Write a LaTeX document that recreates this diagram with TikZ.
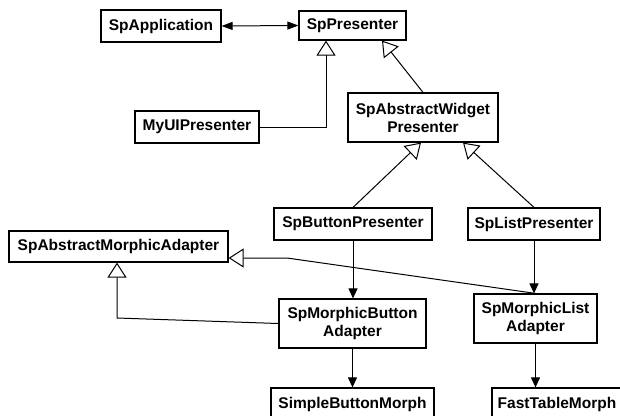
\documentclass[tikz,border=0pt]{standalone}
\usepackage{fontspec}
\setmainfont{Liberation Sans}
\usetikzlibrary{arrows.meta}

\tikzset{
  cls/.style={draw, line width=1.2pt, inner sep=0pt, align=center,
    font=\bfseries\fontsize{15.5}{18}\selectfont},
  link/.style={line width=1pt},
  inherit/.style={link, -{Triangle[open, length=15pt, width=19pt, fill=white]}},
  assoc/.style={link, -{Triangle[length=10pt, width=9pt]}},
  both/.style={link, {Triangle[length=11pt, width=8pt]}-{Triangle[length=11pt, width=8pt]}}
}

\begin{document}
\begin{tikzpicture}[x=1pt, y=-1pt]
\useasboundingbox (0,0) rectangle (620,415);

% classes
\node[cls, minimum width=120pt, minimum height=32pt] (app)  at (161,26)    {SpApplication};
\node[cls, minimum width=107pt, minimum height=29pt] (pres) at (352.5,25.5) {SpPresenter};
\node[cls, minimum width=124pt, minimum height=32pt] (myui) at (197,127)   {MyUIPresenter};
\node[cls, minimum width=150pt, minimum height=49pt] (awp)  at (423,117.5) {SpAbstractWidget\\Presenter};
\node[cls, minimum width=158pt, minimum height=32pt] (btn)  at (353,224)   {SpButtonPresenter};
\node[cls, minimum width=132pt, minimum height=32pt] (lst)  at (534,224)   {SpListPresenter};
\node[cls, minimum width=219pt, minimum height=31pt] (ama)  at (118.5,246.5) {SpAbstractMorphicAdapter};
\node[cls, minimum width=147pt, minimum height=49pt] (mba)  at (352.5,323.5) {SpMorphicButton\\Adapter};
\node[cls, minimum width=123pt, minimum height=49pt] (mla)  at (535.5,318.5) {SpMorphicList\\Adapter};
\node[cls, minimum width=163pt, minimum height=32pt] (sbm)  at (352.5,404) {SimpleButtonMorph};
\node[cls, minimum width=130pt, minimum height=32pt] (ftm)  at (557,404)   {FastTableMorph};

% bend points
\coordinate (b1) at (287,258);
\coordinate (b2) at (117,318);

% associations
\draw[both] (app.east) -- (pres.west);
\draw[assoc] (btn.south) -- (btn.south |- mba.north);
\draw[assoc] (lst.south) -- (lst.south |- mla.north);
\draw[assoc] (mba.south) -- (mba.south |- sbm.north);
\draw[assoc] (mla.south) -- (mla.south |- ftm.north);

% generalizations
\draw[inherit] (myui.east) -| ([xshift=-26.5pt]pres.south);
\draw[inherit] (awp.north) -- ([xshift=29.5pt]pres.south);
\draw[inherit] (btn.north) -- ([xshift=-2pt]awp.south);
\draw[inherit] (lst.north) -- ([xshift=40pt]awp.south);
\draw[inherit] (mla.north) -- (b1) -- (b1 -| ama.east);
\draw[inherit] (mba.west) -- (b2) -- (b2 |- ama.south);
\end{tikzpicture}
\end{document}
